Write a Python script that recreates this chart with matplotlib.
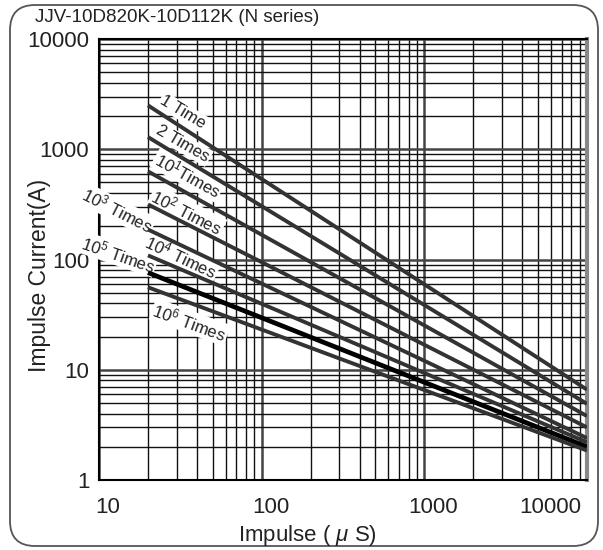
import matplotlib
matplotlib.use("Agg")
import matplotlib.pyplot as plt
import matplotlib.transforms as mtransforms
from matplotlib.patches import FancyBboxPatch
from matplotlib.ticker import NullFormatter, LogLocator

plt.rcParams['font.family'] = ['Liberation Sans', 'DejaVu Sans']
plt.rcParams['mathtext.fontset'] = 'custom'
plt.rcParams['mathtext.rm'] = 'Liberation Sans'
plt.rcParams['mathtext.it'] = 'Liberation Sans:italic'

# data (log-log straight lines)
impulse = [20, 10000]
series = ['1 Time', '2 Times', '10$^1$Times', '10$^2$ Times', '10$^3$ Times',
          '10$^4$ Times', '10$^5$ Times', '10$^6$ Times']
current_start = [2500, 1290, 630, 316, 187, 109, 76, 56]
current_end = [6.6, 4.9, 3.8, 3.0, 2.4, 2.2, 2.0, 1.85]
xticks = [10, 100, 1000, 10000]
yticks = [1, 10, 100, 1000, 10000]

fig = plt.figure(figsize=(6.03, 5.50), dpi=100)
ax = fig.add_axes([99/603, 1-480/550, 488/603, 441/550])

ax.set_xscale('log')
ax.set_yscale('log')
ax.set_xlim(10, 10000)
ax.set_ylim(1, 10000)

# grid
ax.set_axisbelow(True)
ax.xaxis.set_minor_locator(LogLocator(base=10, subs=range(2, 10)))
ax.yaxis.set_minor_locator(LogLocator(base=10, subs=range(2, 10)))
ax.grid(which='major', color='#444444', lw=1.8)
ax.grid(which='minor', color='#111111', lw=1.0)
ax.xaxis.set_minor_formatter(NullFormatter())
ax.yaxis.set_minor_formatter(NullFormatter())

# lines
for i, name in enumerate(series):
    if i == 6:
        ax.plot(impulse, [current_start[i], current_end[i]], color='black', lw=3.4, zorder=4,
                solid_capstyle='butt')
    else:
        ax.plot(impulse, [current_start[i], current_end[i]], color='#333333', lw=2.8, zorder=4,
                solid_capstyle='butt')

# labels along lines (axes fraction positions)
label_pos = [(0.172, 0.834, -31), (0.172, 0.762, -30), (0.182, 0.692, -29),
             (0.180, 0.608, -27), (0.037, 0.612, -27), (0.168, 0.506, -25),
             (0.039, 0.512, -19), (0.186, 0.358, -20)]
for name, (fx, fy, rot) in zip(series, label_pos):
    ax.text(fx, fy, name, transform=ax.transAxes, fontsize=12, rotation=rot,
            ha='center', va='center', color='#222222', zorder=3, rotation_mode='anchor',
            bbox=dict(facecolor='white', edgecolor='none', pad=1.0))

# ticks
ax.set_xticks(xticks, [str(t) for t in xticks])
ax.set_yticks(yticks, [str(t) for t in yticks])
ax.tick_params(which='both', length=0)
ax.tick_params(axis='x', pad=12, labelsize=16, labelcolor='#222222')
ax.tick_params(axis='y', pad=7, labelsize=16, labelcolor='#222222')
xlabels = ax.get_xticklabels()
for j, lab in enumerate(xlabels):
    if j == len(xlabels) - 1:
        lab.set_horizontalalignment('right')
        lab.set_transform(lab.get_transform() + mtransforms.ScaledTranslation(-0.06, 0, fig.dpi_scale_trans))
    else:
        lab.set_transform(lab.get_transform() + mtransforms.ScaledTranslation(0.09, 0, fig.dpi_scale_trans))

for side in ['left', 'bottom', 'top']:
    ax.spines[side].set_color('black')
    ax.spines[side].set_linewidth(1.5)
ax.spines['right'].set_color('#888888')
ax.spines['right'].set_linewidth(3)

# texts
fig.text(35/603, 1-18/550, 'JJV-10D820K-10D112K (N series)', fontsize=13.5,
         ha='left', va='center', color='#222222')
fig.text(40/603, 1-275/550, 'Impulse Current(A)', fontsize=16.5, rotation=90,
         ha='center', va='center', color='#222222')
fig.text(307/603, 1-535/550, 'Impulse ( $\\mu$ S)', fontsize=16,
         ha='center', va='center', color='#222222')

# rounded frame
frame = FancyBboxPatch((0.10, 0.04), 5.88, 5.41, boxstyle='round,pad=0,rounding_size=0.25',
                       transform=fig.dpi_scale_trans, facecolor='none', edgecolor='#555555', lw=1.3)
fig.patches.append(frame)

fig.savefig('out.png', dpi=100)
